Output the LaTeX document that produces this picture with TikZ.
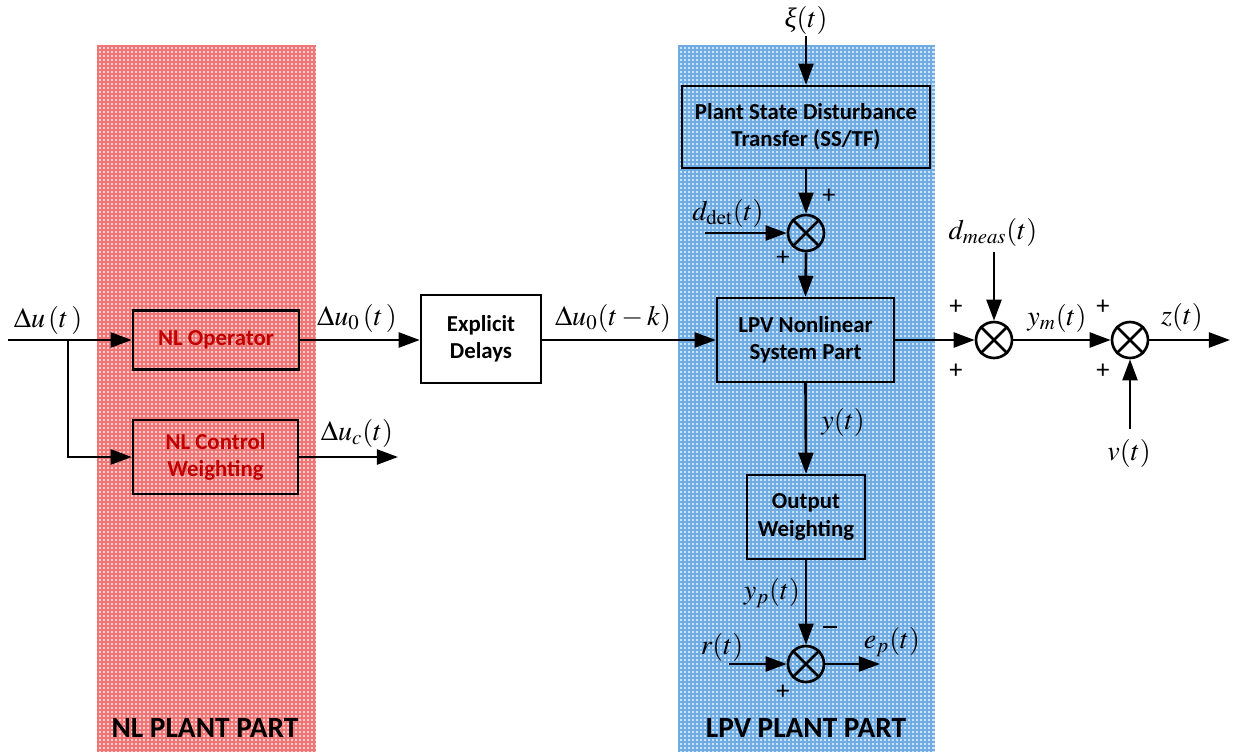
\documentclass[tikz,border=0pt]{standalone}
\usepackage{mathptmx}
\usepackage[no-math]{fontspec}
\setmainfont{Carlito}
\newfontfamily\lserif{Liberation Serif}
\usetikzlibrary{arrows.meta}

\definecolor{nlbase}{RGB}{252,208,208}
\definecolor{nlline}{RGB}{240,118,118}
\definecolor{lpvbase}{RGB}{204,228,247}
\definecolor{lpvline}{RGB}{112,172,226}
\definecolor{nltext}{RGB}{192,0,0}

\newcommand{\itxi}{\mbox{\lserif\itshape ξ}}

\tikzset{
  sig/.style={line width=1.5pt, -{Triangle[length=12pt,width=8.5pt]}},
  wire/.style={line width=1.5pt},
  blk/.style={draw, line width=1.4pt, align=center, font=\fontsize{13}{15.5}\selectfont\bfseries, inner sep=0pt},
  nlblk/.style={blk, text=nltext},
  sumnode/.style={draw, circle, line width=1.5pt, minimum size=0.72cm, inner sep=0pt},
  lbl/.style={font=\fontsize{16}{18}\selectfont, inner sep=0pt},
  sgn/.style={font=\fontsize{15}{15}\selectfont, inner sep=0pt},
  part/.style={font=\fontsize{16.7}{19}\selectfont\bfseries, inner sep=0pt}
}

\begin{document}
\begin{tikzpicture}[x=0.02cm, y=-0.02cm]
\useasboundingbox (0,0) rectangle (1255,755);

% shaded plant regions with a fine grid texture
\fill[nlbase] (97,45) rectangle (316,752);
\foreach \gx in {98,102,...,314} \draw[nlline, line width=1.1pt] (\gx,45) -- (\gx,752);
\foreach \gy in {46,50,...,750} \draw[nlline, line width=1.1pt] (97,\gy) -- (316,\gy);
\fill[lpvbase] (678,45) rectangle (935,752);
\foreach \gx in {679,683,...,933} \draw[lpvline, line width=1.1pt] (\gx,45) -- (\gx,752);
\foreach \gy in {46,50,...,750} \draw[lpvline, line width=1.1pt] (678,\gy) -- (935,\gy);

% blocks
\node[nlblk, minimum width=3.32cm, minimum height=1.18cm] (nlop) at (216,340) {NL Operator};
\node[nlblk, minimum width=3.30cm, minimum height=1.48cm] (nlcw) at (215.5,457) {NL Control\\Weighting};
\node[blk, fill=white, minimum width=2.40cm, minimum height=1.76cm] (dly) at (481,339) {Explicit\\Delays};
\node[blk, minimum width=3.54cm, minimum height=1.68cm] (lpv) at (805.5,340) {LPV Nonlinear\\System Part};
\node[blk, minimum width=4.96cm, minimum height=1.64cm] (psd) at (806,127) {Plant State Disturbance\\Transfer (SS/TF)};
\node[blk, minimum width=2.36cm, minimum height=1.68cm] (ow) at (806,517) {Output\\Weighting};

% summing junctions
\foreach \n/\px/\py in {s1/806/233, s2/994/340, s3/1130/340, s4/806/664} {
  \node[sumnode] (\n) at (\px,\py) {};
  \draw[line width=1.5pt] (\n.north west) -- (\n.south east) (\n.north east) -- (\n.south west);
}

% free ends
\coordinate (in) at (8,340);
\coordinate (br) at (68,340);
\coordinate (brd) at (68,457);
\coordinate (uc) at (398,457);
\coordinate (xi) at (806,36);
\coordinate (ddet) at (705,233);
\coordinate (dmeas) at (994,252);
\coordinate (zout) at (1230,340);
\coordinate (vin) at (1130,429);
\coordinate (rin) at (729,664);
\coordinate (epout) at (880,664);

% connectors
\draw[wire] (in) -- (br);
\draw[sig] (br) -- (nlop.west);
\draw[sig] (br) -- (brd) -- (nlcw.west);
\draw[sig] (nlop.east) -- (dly.west |- nlop.east);
\draw[sig] (nlcw.east) -- (uc);
\draw[sig] (dly.east |- lpv.west) -- (lpv.west);
\draw[sig] (xi) -- (psd.north);
\draw[sig] (psd.south) -- (s1.north);
\draw[sig] (ddet) -- (s1.west);
\draw[sig] (s1.south) -- (lpv.north);
\draw[sig] (lpv.east) -- (s2.west);
\draw[sig] (dmeas) -- (s2.north);
\draw[sig] (s2.east) -- (s3.west);
\draw[sig] (s3.east) -- (zout);
\draw[sig] (vin) -- (s3.south);
\draw[sig] (lpv.south) -- (ow.north);
\draw[sig] (ow.south) -- (s4.north);
\draw[sig] (rin) -- (s4.west);
\draw[sig] (s4.east) -- (epout);

% signal labels
\node[lbl] (l1) at (48,320) {$\Delta u\,(t\,)$};
\node[lbl] (l2) at (357,318) {$\Delta u_0\,(t\,)$};
\node[lbl] (l3) at (357,433) {$\Delta u_c(t)$};
\node[lbl] (l4) at (613,318) {$\Delta u_0(t-k)$};
\node[lbl] (l5) at (806,20) {\itxi$(t)$};
\node[lbl] (l6) at (728,213) {$d_{\mathrm{det}}(t)$};
\node[lbl] (l7) at (993,232) {$d_{meas}(t)$};
\node[lbl] (l8) at (1057,318) {$y_m(t)$};
\node[lbl] (l9) at (1182,317) {$z(t)$};
\node[lbl] (l10) at (1129,453) {$v(t)$};
\node[lbl] (l11) at (843,422) {$y(t)$};
\node[lbl] (l12) at (772,593) {$y_p(t)$};
\node[lbl] (l13) at (722,647) {$r(t)$};
\node[lbl] (l14) at (892,642) {$e_p(t)$};

% signs
\node[sgn] (p1) at (829,196) {+};
\node[sgn] (p2) at (783,258) {+};
\node[sgn] (p3) at (956,307) {+};
\node[sgn] (p4) at (956,371) {+};
\node[sgn] (p5) at (1103,307) {+};
\node[sgn] (p6) at (1103,371) {+};
\node[sgn] (m1) at (830,630) {\rule[0.5ex]{0.5em}{0.09em}};
\node[sgn] (p7) at (783,692) {+};

% region titles
\node[part] (nlt) at (205,728) {NL PLANT PART};
\node[part] (lpvt) at (806,728) {LPV PLANT PART};
\end{tikzpicture}
\end{document}
